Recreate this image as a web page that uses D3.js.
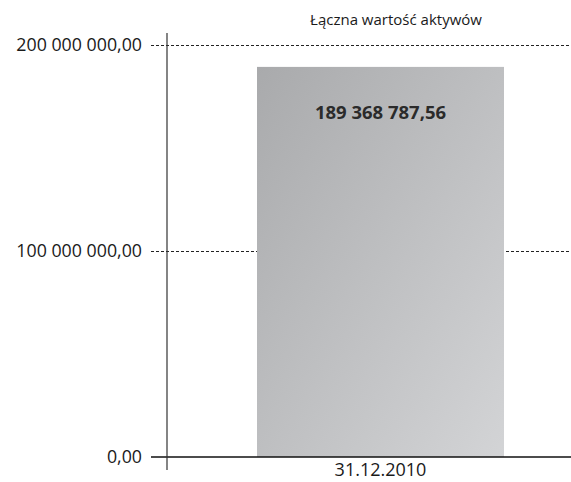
<!DOCTYPE html>
<html><head><meta charset="utf-8">
<script src="https://cdn.jsdelivr.net/npm/d3@7"></script>
<style>body{margin:0;background:#fff}svg{display:block}text{font-family:"Open Sans",sans-serif}</style>
</head><body>
<script>
const title = "Łączna wartość aktywów";
const categories = ["31.12.2010"];
const values = [189368787.56];
const valueLabels = ["189 368 787,56"];
const tickValues = [0, 100000000, 200000000];
const tickLabels = ["0,00", "100 000 000,00", "200 000 000,00"];

const W = 571, H = 482;
const svg = d3.select("body").append("svg").attr("width", W).attr("height", H);
const axisX = 167, left = 151;
const y = d3.scaleLinear().domain([0, 200000000]).range([457, 45]);
const x = d3.scaleBand().domain(categories).range([axisX, 594]).paddingInner(0).paddingOuter(0.36);

const defs = svg.append("defs");
const g = defs.append("linearGradient").attr("id","bg").attr("x1","0").attr("y1","0").attr("x2","1").attr("y2","1");
g.append("stop").attr("offset","0").attr("stop-color","#a9aaac");
g.append("stop").attr("offset","1").attr("stop-color","#d3d4d6");

// gridlines
svg.selectAll("line.grid").data(tickValues.filter(d=>d>0)).join("line")
  .attr("x1", left).attr("x2", W).attr("y1", d=>Math.round(y(d))+0.5).attr("y2", d=>Math.round(y(d))+0.5)
  .attr("stroke","#222").attr("stroke-width",1).attr("stroke-dasharray","3,2");

// bars
const bw = 247;
svg.selectAll("rect.bar").data(values).join("rect")
  .attr("x", (d,i)=>x(categories[i]) + x.bandwidth()/2 - bw/2)
  .attr("width", bw)
  .attr("y", d=>y(d)).attr("height", d=>y(0)-y(d))
  .attr("fill","url(#bg)");

svg.selectAll("text.vl").data(values).join("text")
  .attr("x", (d,i)=>x(categories[i]) + x.bandwidth()/2)
  .attr("y", 119)
  .attr("text-anchor","middle").attr("font-weight","bold").attr("font-size",18.5).attr("fill","#2b2b2b")
  .text((d,i)=>valueLabels[i]);

// baseline
svg.append("line").attr("x1", left).attr("x2", W).attr("y1", y(0)).attr("y2", y(0))
  .attr("stroke","#111").attr("stroke-width",1.5);
// y axis line
svg.append("line").attr("x1", axisX).attr("x2", axisX).attr("y1", 33).attr("y2", 470)
  .attr("stroke","#333").attr("stroke-width",1.2);

// y tick labels
svg.selectAll("text.yt").data(tickValues).join("text")
  .attr("x", 142).attr("y", d=>y(d)).attr("dy","0.36em")
  .attr("text-anchor","end").attr("font-size",17.8).attr("fill","#1a1a1a")
  .text((d,i)=>tickLabels[i]);

// x labels
svg.selectAll("text.xl").data(categories).join("text")
  .attr("x", d=>x(d)+x.bandwidth()/2).attr("y", 476)
  .attr("text-anchor","middle").attr("font-size",18).attr("fill","#1a1a1a").text(d=>d);

svg.append("text").attr("x", 396).attr("y", 25).attr("text-anchor","middle")
  .attr("font-size",15).attr("fill","#1a1a1a").text(title);
</script>
</body></html>
